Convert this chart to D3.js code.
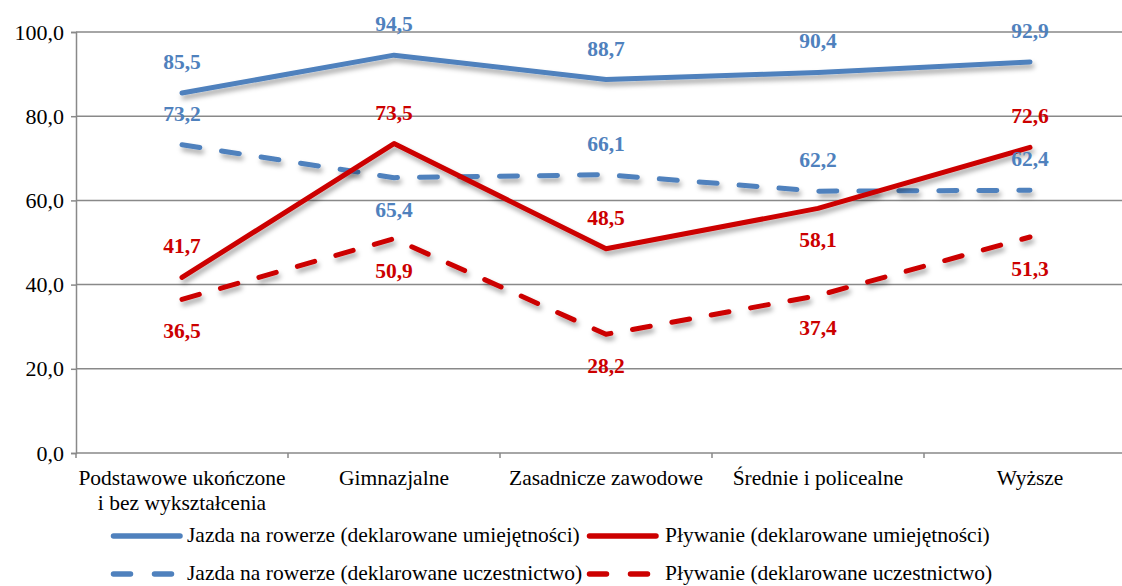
<!DOCTYPE html>
<html>
<head>
<meta charset="utf-8">
<script src="https://cdn.jsdelivr.net/npm/d3@7/dist/d3.min.js"></script>
<style>
  body { margin: 0; background: #fff; }
</style>
</head>
<body>
<script>
var width = 1122;
var height = 586;
var font = "Liberation Serif, Times New Roman, serif";

// Data
var categories = ["Podstawowe ukończone|i bez wykształcenia", "Gimnazjalne", "Zasadnicze zawodowe", "Średnie i policealne", "Wyższe"];
var rowerUmiej = [85.5, 94.5, 88.7, 90.4, 92.9];
var plywUmiej = [41.7, 73.5, 48.5, 58.1, 72.6];
var rowerUczest = [73.2, 65.4, 66.1, 62.2, 62.4];
var plywUczest = [36.5, 50.9, 28.2, 37.4, 51.3];
var yTicks = [0, 20, 40, 60, 80, 100];

// label side per point: -1 above, 1 below
var series = [
    { name: "Jazda na rowerze (deklarowane umiejętności)", values: rowerUmiej, color: "#4F81BD", dash: null, side: [-1, -1, -1, -1, -1] },
    { name: "Pływanie (deklarowane umiejętności)", values: plywUmiej, color: "#CC0000", dash: null, side: [-1, -1, -1, 1, -1] },
    { name: "Jazda na rowerze (deklarowane uczestnictwo)", values: rowerUczest, color: "#4F81BD", dash: "18,22", side: [-1, 1, -1, -1, -1] },
    { name: "Pływanie (deklarowane uczestnictwo)", values: plywUczest, color: "#CC0000", dash: "18,22", side: [1, 1, 1, 1, 1] }
];

var svg = d3.select("body").append("svg")
    .attr("width", width)
    .attr("height", height);

// soft drop shadow under the lines
var defs = svg.append("defs");
var filter = defs.append("filter").attr("id", "shadow")
    .attr("x", "-10%").attr("y", "-50%").attr("width", "120%").attr("height", "200%");
filter.append("feDropShadow")
    .attr("dx", 2).attr("dy", 4).attr("stdDeviation", 2.5)
    .attr("flood-color", "#000").attr("flood-opacity", 0.35);

// plot continues past the right edge of the picture
var x = d3.scaleBand().domain(d3.range(categories.length)).range([76, 1136]);
var y = d3.scaleLinear().domain([0, 100]).range([453, 32]);

// Gridlines
svg.append("g").selectAll("line")
    .data(yTicks.slice(1))
    .enter().append("line")
    .attr("x1", 76).attr("x2", width)
    .attr("y1", function(d) { return y(d); })
    .attr("y2", function(d) { return y(d); })
    .attr("stroke", "#898989")
    .attr("stroke-width", 1.5);

// Y axis
var yAxis = d3.axisLeft(y).tickValues(yTicks).tickSize(5).tickPadding(7)
    .tickFormat(function(d) { return d3.format(".1f")(d).replace(".", ","); });
var gy = svg.append("g").attr("transform", "translate(76,0)").call(yAxis);
gy.select(".domain").attr("stroke", "#898989").attr("stroke-width", 1.5);
gy.selectAll(".tick line").attr("stroke", "#898989").attr("stroke-width", 1.5);
gy.selectAll(".tick text").attr("font-size", "22px").attr("fill", "#000")
    .attr("font-family", font);

// X axis
var gx = svg.append("g").attr("transform", "translate(0,453)");
gx.append("line").attr("x1", 76).attr("x2", width).attr("y1", 0).attr("y2", 0)
    .attr("stroke", "#898989").attr("stroke-width", 1.5);
gx.selectAll(".xt")
    .data(d3.range(categories.length + 1))
    .enter().append("line")
    .attr("x1", function(d) { return 76 + d * x.step(); })
    .attr("x2", function(d) { return 76 + d * x.step(); })
    .attr("y1", 0).attr("y2", 5)
    .attr("stroke", "#898989").attr("stroke-width", 1.5);
gx.selectAll(".xl")
    .data(categories)
    .enter().append("text")
    .attr("x", function(d, i) { return x(i) + x.bandwidth() / 2; })
    .attr("y", 32)
    .attr("text-anchor", "middle")
    .attr("font-size", "21.5px")
    .attr("font-family", font)
    .attr("fill", "#000")
    .each(function(d, i) {
        var t = d3.select(this);
        d.split("|").forEach(function(p, k) {
            t.append("tspan")
                .attr("x", x(i) + x.bandwidth() / 2)
                .attr("dy", k === 0 ? 0 : 25)
                .text(p);
        });
    });

// Lines
var line = d3.line()
    .x(function(d, i) { return x(i) + x.bandwidth() / 2; })
    .y(function(d) { return y(d); });

var drawOrder = [2, 3, 0, 1];
drawOrder.forEach(function(si) {
    var s = series[si];
    svg.append("path")
        .datum(s.values)
        .attr("d", line)
        .attr("fill", "none")
        .attr("stroke", s.color)
        .attr("stroke-width", 5)
        .attr("stroke-linecap", "round")
        .attr("stroke-linejoin", "round")
        .attr("stroke-dasharray", s.dash)
        .attr("filter", "url(#shadow)");
});

// Data labels
series.forEach(function(s) {
    svg.append("g").selectAll("text")
        .data(s.values)
        .enter().append("text")
        .attr("x", function(d, i) { return x(i) + x.bandwidth() / 2; })
        .attr("y", function(d, i) { return y(d) + (s.side[i] < 0 ? -24 : 39); })
        .attr("text-anchor", "middle")
        .attr("font-size", "21.5px")
        .attr("font-weight", "bold")
        .attr("font-family", font)
        .attr("fill", s.color)
        .text(function(d) { return d3.format(".1f")(d).replace(".", ","); });
});

// Legend
var legendPos = [[111, 536], [587, 536], [111, 574], [587, 574]];
series.forEach(function(s, i) {
    var g = svg.append("g").attr("transform", "translate(" + legendPos[i][0] + "," + legendPos[i][1] + ")");
    g.append("line")
        .attr("x1", 2.5).attr("x2", 69)
        .attr("y1", 0).attr("y2", 0)
        .attr("stroke", s.color)
        .attr("stroke-width", 5.5)
        .attr("stroke-linecap", "round")
        .attr("stroke-dasharray", s.dash ? "17,24" : null);
    g.append("text")
        .attr("x", i % 2 === 0 ? 76 : 78).attr("y", 6)
        .attr("font-size", "21.5px")
        .attr("font-family", font)
        .attr("fill", "#000")
        .text(s.name);
});
</script>
</body>
</html>
